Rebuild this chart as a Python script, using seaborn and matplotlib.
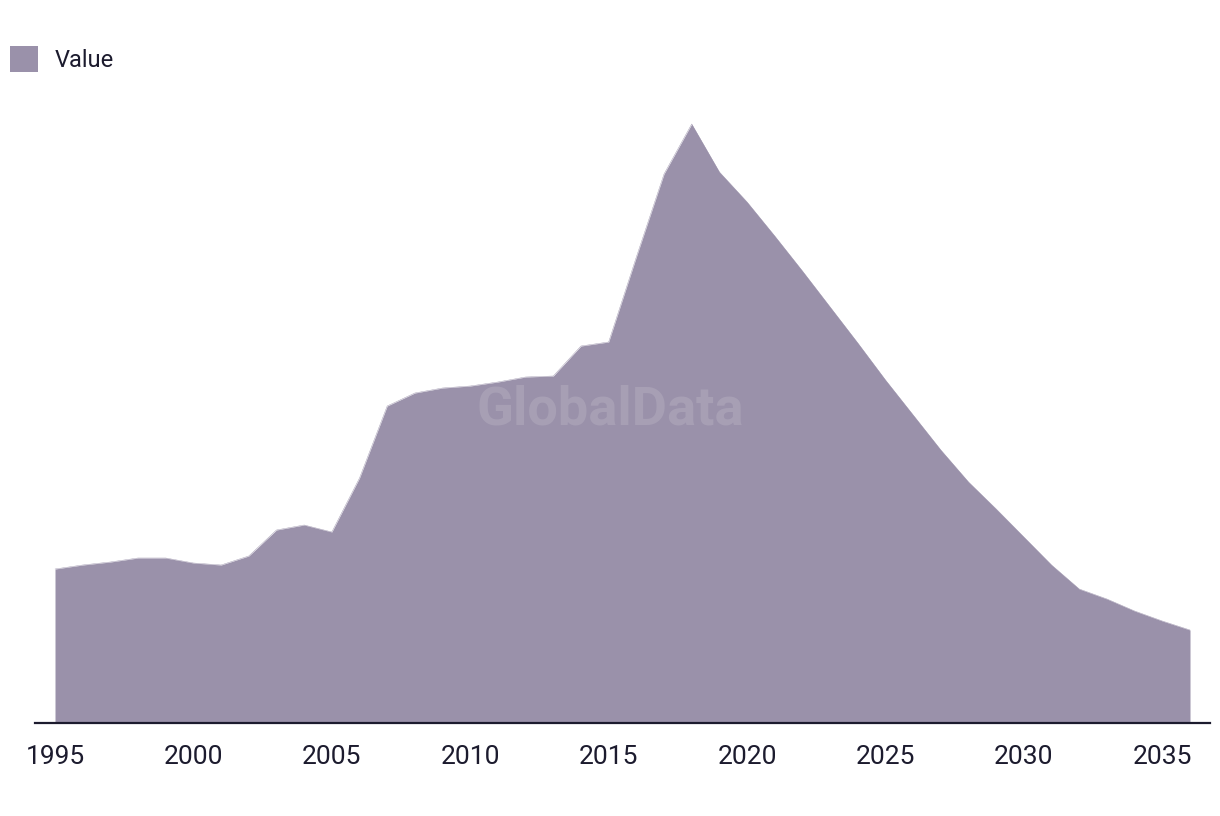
import matplotlib
matplotlib.use("Agg")
import matplotlib.pyplot as plt
from matplotlib.patches import Patch
import seaborn as sns
import pandas as pd

years = list(range(1995, 2037))
values = [154, 158, 161, 165, 165, 160, 158, 167, 193, 198,
          191, 245, 317, 330, 335, 337, 341, 346, 347, 377,
          381, 466, 549, 599, 551, 521, 487, 452, 416, 380,
          343, 308, 273, 241, 214, 186, 158, 134, 124, 112,
          102, 93]
tick_years = [1995, 2000, 2005, 2010, 2015, 2020, 2025, 2030, 2035]
series_name = "Value"

df = pd.DataFrame({"year": years, "value": values})

sns.set_theme(style="white")
plt.rcParams["font.family"] = ["Roboto", "DejaVu Sans"]

fill_color = "#9a91aa"
text_color = "#1c1b2e"

fig = plt.figure(figsize=(12.2, 8.16), dpi=100)
ax = fig.add_axes([35 / 1220, 1 - 723 / 816, 1175 / 1220, 650 / 816])

sns.lineplot(data=df, x="year", y="value", ax=ax, color=fill_color, linewidth=0.3)
ax.fill_between(df["year"], df["value"], 0, color=fill_color, linewidth=0)

ax.set_xlim(1995 - 20 / 27.68, 2036 + 20 / 27.68)
ax.set_ylim(0, 650)
ax.set_xticks(tick_years)
ax.set_xticklabels([str(t) for t in tick_years])
ax.set_yticks([])
ax.set_xlabel("")
ax.set_ylabel("")
for s in ["top", "right", "left"]:
    ax.spines[s].set_visible(False)
ax.spines["bottom"].set_color(text_color)
ax.spines["bottom"].set_linewidth(1.6)
ax.tick_params(axis="x", length=0, pad=15.5, labelsize=19, colors=text_color)

ax.text(0.5, 1 - 410 / 816, "GlobalData", transform=fig.transFigure, ha="center", va="center",
        fontsize=39, fontweight="bold", color="white", alpha=0.13)

handles = [Patch(facecolor=fill_color, edgecolor="none", label=series_name)]
leg = fig.legend(handles=handles, loc="upper left", bbox_to_anchor=(10 / 1220, 1 - 46 / 816),
                 frameon=False, fontsize=17, handlelength=1.19, handleheight=1.3,
                 handletextpad=0.72, borderaxespad=0, borderpad=0)
for t in leg.get_texts():
    t.set_color(text_color)

fig.savefig("out.png", dpi=100)
